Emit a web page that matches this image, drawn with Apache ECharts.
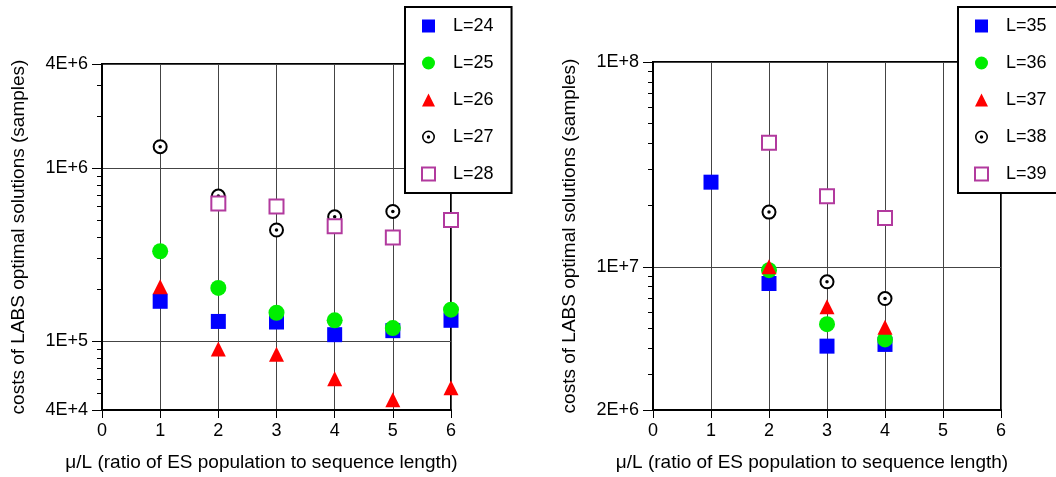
<!DOCTYPE html>
<html>
<head>
<meta charset="utf-8">
<script src="https://cdn.jsdelivr.net/npm/echarts@6/dist/echarts.min.js"></script>
<style>
html,body{margin:0;padding:0;background:#fff;}
#chart{width:1056px;height:477px;}
</style>
</head>
<body>
<div id="chart"></div>
<script>
// ---- data ----
const xTicks = [0, 1, 2, 3, 4, 5, 6];
const xLeft = [1, 2, 3, 4, 5, 6];
const L24 = [1.70e5, 1.30e5, 1.29e5, 1.09e5, 1.15e5, 1.32e5];
const L25 = [3.31e5, 2.03e5, 1.46e5, 1.32e5, 1.19e5, 1.52e5];
const L26 = [2.06e5, 9.0e4, 8.4e4, 6.07e4, 4.58e4, 5.38e4];
const L27 = [1.33e6, 6.9e5, 4.39e5, 5.23e5, 5.62e5, null];
const L28 = [null, 6.24e5, 6.0e5, 4.61e5, 3.98e5, 5.01e5];

const xRight = [1, 2, 3, 4];
const L35 = [2.59e7, 8.29e6, 4.10e6, 4.18e6];
const L36 = [null, 9.63e6, 5.25e6, 4.42e6];
const L37 = [null, 1.0e7, 6.39e6, 5.07e6];
const L38 = [null, 1.85e7, 8.45e6, 7.0e6];
const L39 = [null, 4.03e7, 2.21e7, 1.73e7];

const leftYRange = [4e4, 4e6];
const rightYRange = [2e6, 1e8];
const leftMinorTicks = [5e4, 6e4, 7e4, 8e4, 9e4, 2e5, 3e5, 4e5, 5e5, 6e5, 7e5, 8e5, 9e5, 2e6, 3e6];
const rightMinorTicks = [3e6, 4e6, 5e6, 6e6, 7e6, 8e6, 9e6, 2e7, 3e7, 4e7, 5e7, 6e7, 7e7, 8e7, 9e7];

const leftNames = ['L=24', 'L=25', 'L=26', 'L=27', 'L=28'];
const rightNames = ['L=35', 'L=36', 'L=37', 'L=38', 'L=39'];

// ---- styles ----
const FONT = "'Liberation Sans', Arial, Helvetica, sans-serif";
const COLORS = ['#0000ff', '#00ee00', '#ff0000', '#000000', '#b23a9e'];
const RING = 'path://M50,0A50,50,0,1,1,50,100A50,50,0,1,1,50,0ZM50,12A38,38,0,1,0,50,88A38,38,0,1,0,50,12ZM50,37A13,13,0,1,1,50,63A13,13,0,1,1,50,37Z';

function pairs(xs, ys) {
  const out = [];
  xs.forEach((x, i) => { if (ys[i] != null) out.push([x, ys[i]]); });
  return out;
}

const grids = [
  {left: 102, top: 64, width: 349, height: 348, show: true, borderColor: '#000', borderWidth: 2, backgroundColor: 'transparent'},
  {left: 653, top: 62, width: 348, height: 349, show: true, borderColor: '#000', borderWidth: 2, backgroundColor: 'transparent'}
];

function xAxisFor(gi) {
  return {
    type: 'value', gridIndex: gi, min: 0, max: 6, interval: 1,
    name: 'μ/L (ratio of ES population to sequence length)',
    nameLocation: 'middle', nameGap: 43,
    nameTextStyle: {fontFamily: FONT, fontSize: 19, color: '#000', padding: [0, 30, 0, 0]},
    axisLine: {show: true, lineStyle: {color: '#000', width: 2}},
    axisTick: {show: true, inside: false, length: 8, lineStyle: {color: '#000', width: 1}},
    axisLabel: {fontFamily: FONT, fontSize: 18, color: '#000', margin: 12},
    splitLine: {show: true, lineStyle: {color: '#444', width: 1}}
  };
}

function yAxisFor(gi, range) {
  return {
    type: 'log', logBase: 10, gridIndex: gi, min: range[0], max: range[1],
    name: 'costs of LABS optimal solutions (samples)',
    nameLocation: 'middle', nameGap: 74, nameRotate: 90,
    nameTextStyle: {fontFamily: FONT, fontSize: 19, color: '#000'},
    axisLine: {show: true, lineStyle: {color: '#000', width: 2}},
    axisTick: {show: true, inside: false, length: 10, lineStyle: {color: '#000', width: 1}},
    axisLabel: {fontFamily: FONT, fontSize: 18, color: '#000', margin: 14,
      formatter: v => Number(v).toExponential(0).toUpperCase()},
    splitLine: {show: true, lineStyle: {color: '#444', width: 1}}
  };
}

function minorAxisFor(gi, range, minor) {
  return {
    type: 'log', logBase: 10, gridIndex: gi, min: range[0], max: range[1], position: 'left',
    axisLine: {show: false},
    axisTick: {show: true, inside: false, length: 5, customValues: minor, lineStyle: {color: '#000', width: 1}},
    axisLabel: {show: false},
    splitLine: {show: false}
  };
}

function makeSeries(gi, xs, arrs, names) {
  const s = [];
  const base = {type: 'scatter', xAxisIndex: gi, yAxisIndex: gi * 2};
  s.push(Object.assign({}, base, {name: names[0], symbol: 'rect', symbolSize: 15, itemStyle: {color: COLORS[0], opacity: 1}, data: pairs(xs, arrs[0])}));
  s.push(Object.assign({}, base, {name: names[1], symbol: 'circle', symbolSize: 16, itemStyle: {color: COLORS[1], opacity: 1}, data: pairs(xs, arrs[1])}));
  s.push(Object.assign({}, base, {name: names[2], symbol: 'triangle', symbolSize: 15, itemStyle: {color: COLORS[2], opacity: 1}, data: pairs(xs, arrs[2])}));
  s.push(Object.assign({}, base, {name: names[3], symbol: 'emptyCircle', symbolSize: 13, itemStyle: {color: COLORS[3], borderWidth: 1.6, opacity: 1}, data: pairs(xs, arrs[3])}));
  s.push(Object.assign({}, base, {name: names[3], symbol: 'circle', symbolSize: 3.5, itemStyle: {color: COLORS[3], opacity: 1}, data: pairs(xs, arrs[3])}));
  s.push(Object.assign({}, base, {name: names[4], symbol: 'emptyRect', symbolSize: 14, itemStyle: {color: COLORS[4], borderWidth: 1.5, opacity: 1}, data: pairs(xs, arrs[4])}));
  return s;
}

function legendFor(names, left) {
  return {
    orient: 'vertical', left: left, top: 7,
    backgroundColor: '#fff', borderColor: '#000', borderWidth: 2,
    padding: [10, 18, 10, 16],
    itemWidth: 13, itemHeight: 13, itemGap: 19,
    selectedMode: false,
    textStyle: {fontFamily: FONT, fontSize: 18, color: '#000', lineHeight: 18, padding: [0, 0, 0, 13]},
    data: [
      {name: names[0], icon: 'rect', itemStyle: {color: COLORS[0], opacity: 1}},
      {name: names[1], icon: 'circle', itemStyle: {color: COLORS[1], opacity: 1}},
      {name: names[2], icon: 'triangle', itemStyle: {color: COLORS[2], opacity: 1}},
      {name: names[3], icon: RING, itemStyle: {color: '#000', borderWidth: 0, opacity: 1}},
      {name: names[4], icon: 'emptyRect', itemStyle: {color: COLORS[4], borderColor: COLORS[4], borderWidth: 1.3, opacity: 1}}
    ]
  };
}

const chart = echarts.init(document.getElementById('chart'), null, {renderer: 'canvas'});
chart.setOption({
  animation: false,
  backgroundColor: '#fff',
  grid: grids,
  xAxis: [xAxisFor(0), xAxisFor(1)],
  yAxis: [yAxisFor(0, leftYRange), minorAxisFor(0, leftYRange, leftMinorTicks),
          yAxisFor(1, rightYRange), minorAxisFor(1, rightYRange, rightMinorTicks)],
  legend: [legendFor(leftNames, 405), legendFor(rightNames, 958)],
  series: [].concat(
    makeSeries(0, xLeft, [L24, L25, L26, L27, L28], leftNames),
    makeSeries(1, xRight, [L35, L36, L37, L38, L39], rightNames)
  )
});
</script>
</body>
</html>
